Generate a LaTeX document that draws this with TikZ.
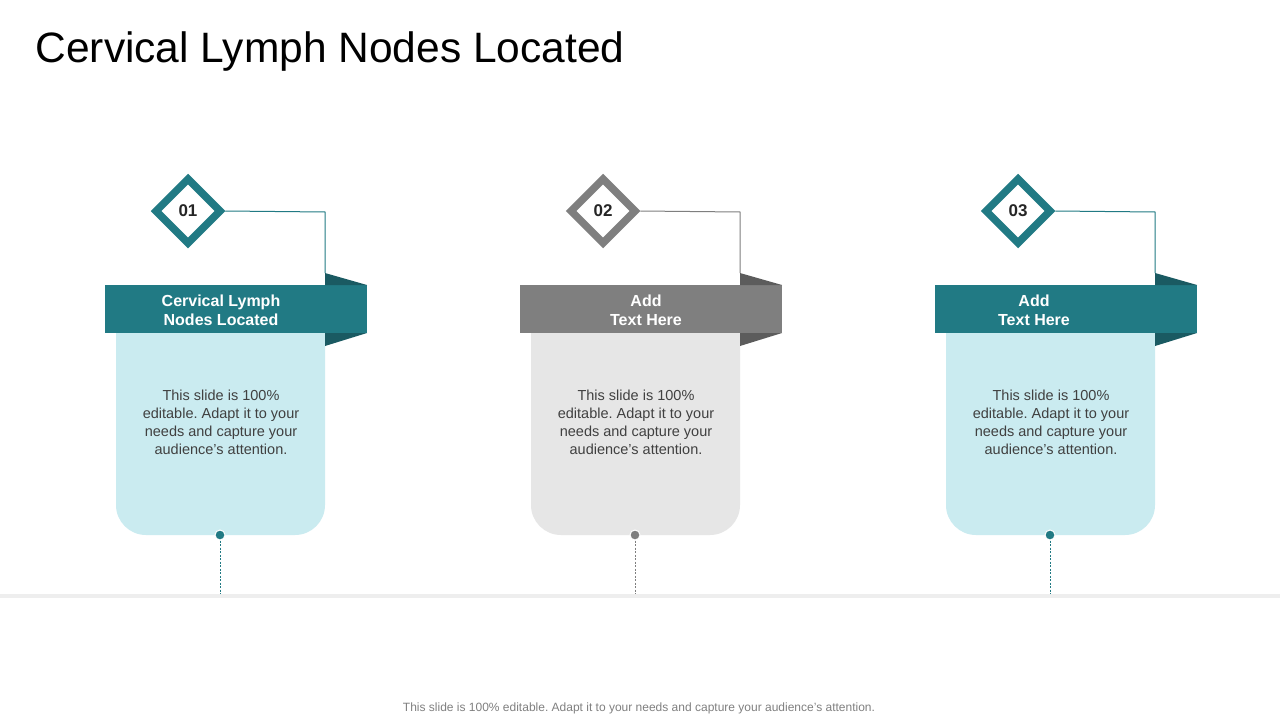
\documentclass[tikz,border=0pt]{standalone}
\usepackage{fontspec}
\setmainfont{Liberation Sans}
\frenchspacing
\usetikzlibrary{shapes.geometric}
\definecolor{tealMain}{HTML}{217A84}
\definecolor{tealFold}{HTML}{1A5A62}
\definecolor{tealBox}{HTML}{CAEBF0}
\definecolor{grayMain}{HTML}{7F7F7F}
\definecolor{grayFold}{HTML}{5C5C5C}
\definecolor{grayBox}{HTML}{E6E6E6}
\definecolor{bodyText}{HTML}{404040}
\definecolor{footText}{HTML}{808080}
\definecolor{baseLine}{HTML}{EEEEEE}
\tikzset{
  badge/.style={diamond, draw=#1, line width=7.5pt, fill=white, inner sep=0pt,
    minimum width=67pt, minimum height=67pt,
    font=\fontsize{17}{19}\selectfont\bfseries, text=black!85},
  banner/.style={rectangle, fill=#1, minimum width=262pt, minimum height=48pt, inner sep=0pt},
  bannertext/.style={align=center, text=white, font=\fontsize{16}{19}\selectfont\bfseries},
  bodytext/.style={align=center, text=bodyText, font=\fontsize{14.5}{18}\selectfont},
  link/.style={draw=#1, line width=1pt},
  dot/.style={circle, fill=#1, draw=white, line width=1pt, minimum size=10pt, inner sep=0pt},
}
\begin{document}
\begin{tikzpicture}[x=1pt, y=-1pt]
    \useasboundingbox (0,0) rectangle (1280,720);
    \fill[white] (0,0) rectangle (1280,720);

    % Title
    \node[anchor=base west, font=\fontsize{42.5}{46}\selectfont] (title) at (32,62) {Cervical Lymph Nodes Located};

    % Base line
    \fill[baseLine] (0,594) rectangle (1280,598);

    % Three columns
    \foreach \n/\o/\main/\fold/\pale/\tx/\head in {
        1/0/tealMain/tealFold/tealBox/221/{Cervical Lymph\\ Nodes Located},
        2/415/grayMain/grayFold/grayBox/646/{Add\\Text Here},
        3/830/tealMain/tealFold/tealBox/1034/{Add\\Text Here}} {
      % light box with rounded bottom
      \fill[\pale] (116+\o,333) [rounded corners=30pt] -- (116+\o,535) -- (325+\o,535)
        [sharp corners] -- (325+\o,333) -- cycle;
      % banner and its folds
      \node[banner=\main] (b\n) at (236+\o,309) {};
      \fill[\fold] (325+\o,273) -- (367+\o,285) -- (325+\o,285) -- cycle;
      \fill[\fold] (325+\o,333) -- (367+\o,333) -- (325+\o,346) -- cycle;
      \node[bannertext] (l\n) at (\tx,310) {\head};
      % number badge and connector
      \node[badge=\main] (d\n) at (188+\o,211) {0\n};
      \coordinate (c\n) at (325+\o,212);
      \coordinate (f\n) at (325+\o,273);
      \draw[link=\main] (d\n.east) -- (c\n) -- (f\n);
      % body text
      \node[bodytext] (t\n) at (221+\o,422) {This slide is 100\%\\ editable. Adapt it to your\\ needs and capture your\\ audience's attention.};
      % dot and dashed drop line
      \node[dot=\main] (p\n) at (220+\o,535) {};
      \coordinate (e\n) at (220+\o,594);
      \draw[\main, line width=0.9pt, dash pattern=on 2pt off 1.5pt] (p\n.south) -- (e\n);
    }

    % Footer
    \node[text=footText, font=\fontsize{12}{14}\selectfont] (foot) at (639,708) {This slide is 100\% editable. Adapt it to your needs and capture your audience's attention.};
\end{tikzpicture}
\end{document}
